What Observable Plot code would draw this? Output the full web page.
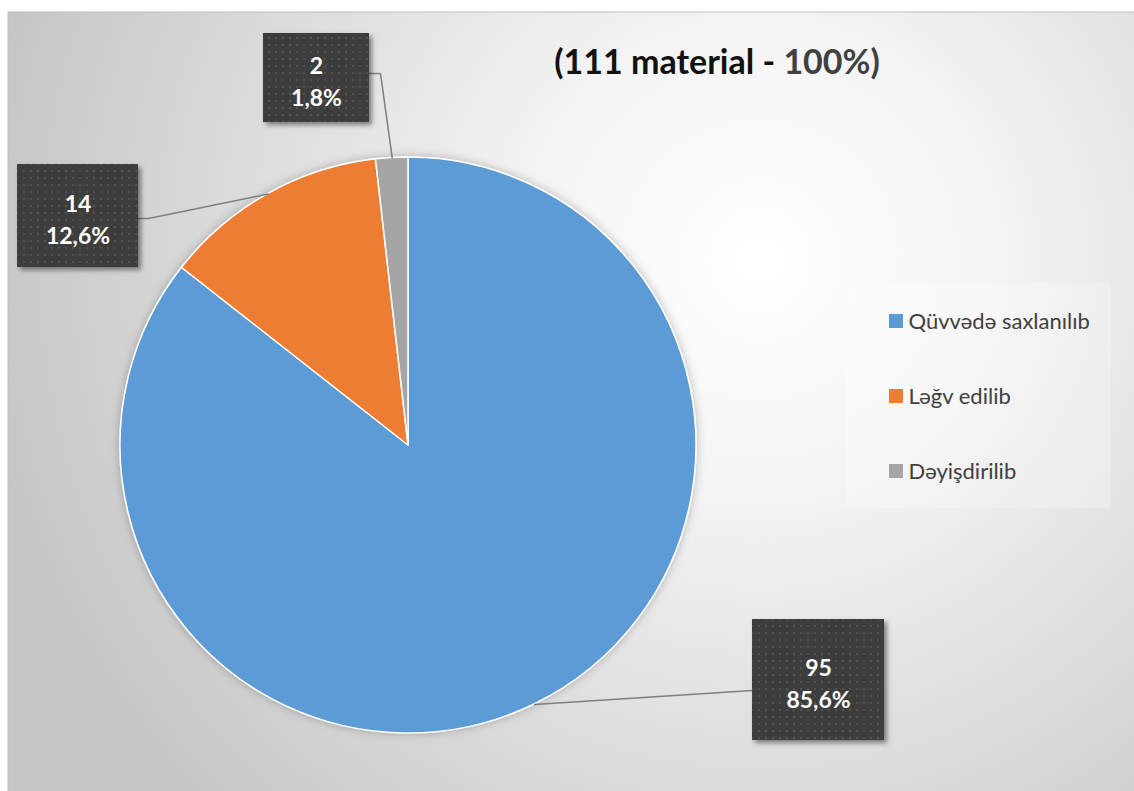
<!DOCTYPE html>
<html><head><meta charset="utf-8">
<script src="https://cdn.jsdelivr.net/npm/d3@7"></script>
<script src="https://cdn.jsdelivr.net/npm/@observablehq/plot@0.6"></script>
<style>body{margin:0;background:#fff;overflow:hidden}</style>
</head><body><div id="chart"></div>
<script>
// ---- data ----
const categories = ["Qüvvədə saxlanılıb", "Ləğv edilib", "Dəyişdirilib"];
const counts = [95, 14, 2];
const percentLabels = ["85,6%", "12,6%", "1,8%"];
const colors = ["#5B9BD5", "#ED7D31", "#A5A5A5"];
const titleMain = "(111 material - ";
const titleTail = "100%)";

// ---- layout ----
const W = 1134, H = 791;
const pie = {cx: 408, cy: 445, r: 288};
const frame = {x1: 8, y1: 12};
const labelBoxes = [
  {x1: 752, x2: 884, y1: 619, y2: 740, sx: 752, sy: 690, ex: 752, ey: 690},
  {x1: 17, x2: 138, y1: 164, y2: 267, sx: 138, sy: 218, ex: 148, ey: 218},
  {x1: 263, x2: 369, y1: 33, y2: 122, sx: 369, sy: 73, ex: 380, ey: 73}
];
const legendBox = {x1: 846, x2: 1111, y1: 283, y2: 508};
const legendRow0 = 321, legendStep = 75, legendSwatchX = 889, legendSwatch = 14, legendTextX = 908;

const arcs = d3.pie().sort(null).value(d => d)(counts);
const rows = categories.map((c, i) => {
  const a = (arcs[i].startAngle + arcs[i].endAngle) / 2;
  const b = labelBoxes[i];
  return {
    category: c, count: counts[i], pct: percentLabels[i], color: colors[i],
    ...b,
    px: pie.cx + pie.r * Math.sin(a), py: pie.cy - pie.r * Math.cos(a),
    ly: legendRow0 + i * legendStep
  };
});
const leader = rows.flatMap((d, i) => [
  {i, x: d.sx, y: d.sy}, {i, x: d.ex, y: d.ey}, {i, x: d.px, y: d.py}
]);

function defsMark() {
  const defs = d3.create("svg:defs");
  const g = defs.append("radialGradient").attr("id", "bg").attr("gradientUnits", "userSpaceOnUse")
    .attr("cx", 760).attr("cy", 260).attr("r", 780);
  g.append("stop").attr("offset", 0).attr("stop-color", "#ffffff");
  g.append("stop").attr("offset", 0.3).attr("stop-color", "#f4f4f4");
  g.append("stop").attr("offset", 1).attr("stop-color", "#c6c6c6");
  const p = defs.append("pattern").attr("id", "dots").attr("patternUnits", "userSpaceOnUse")
    .attr("width", 7).attr("height", 7);
  p.append("rect").attr("width", 7).attr("height", 7).attr("fill", "#3d3d3d");
  p.append("rect").attr("x", 2).attr("y", 2).attr("width", 2).attr("height", 2).attr("fill", "#535353");
  const f = defs.append("filter").attr("id", "boxShadow").attr("x", "-20%").attr("y", "-20%").attr("width", "150%").attr("height", "150%");
  f.append("feDropShadow").attr("dx", 3).attr("dy", 3).attr("stdDeviation", 2.5).attr("flood-color", "#000").attr("flood-opacity", 0.45);
  const f2 = defs.append("filter").attr("id", "pieShadow").attr("x", "-10%").attr("y", "-10%").attr("width", "120%").attr("height", "120%");
  f2.append("feDropShadow").attr("dx", 0).attr("dy", 0).attr("stdDeviation", 5).attr("flood-color", "#000").attr("flood-opacity", 0.25);
  return defs.node();
}

function pieMark(index, scales) {
  const sx = scales && scales.x ? scales.x : (v => v);
  const sy = scales && scales.y ? scales.y : (v => v);
  const cx = sx(pie.cx), cy = sy(pie.cy), r = sx(pie.cx + pie.r) - cx;
  const g = d3.create("svg:g").attr("transform", `translate(${cx},${cy})`).attr("filter", "url(#pieShadow)");
  const arc = d3.arc().innerRadius(0).outerRadius(r);
  g.selectAll("path").data(arcs).join("path")
    .attr("d", arc).attr("fill", (d, i) => colors[i])
    .attr("stroke", "#ffffff").attr("stroke-width", 1.5).attr("stroke-linejoin", "round");
  return g.node();
}

function titleMark(index, scales) {
  const sx = scales && scales.x ? scales.x : (v => v);
  const sy = scales && scales.y ? scales.y : (v => v);
  const t = d3.create("svg:text").attr("x", sx(717)).attr("y", sy(74))
    .attr("text-anchor", "middle").attr("font-family", "Lato, sans-serif")
    .attr("font-weight", "bold").attr("font-size", 34).attr("xml:space", "preserve");
  t.append("tspan").attr("fill", "#111111").text(titleMain);
  t.append("tspan").attr("fill", "#404040").text(titleTail);
  return t.node();
}

const chart = Plot.plot({
  width: W, height: H, margin: 0,
  x: {domain: [0, W], range: [0, W], axis: null},
  y: {domain: [0, H], range: [0, H], axis: null},
  style: {background: "#ffffff", fontFamily: "Lato, sans-serif"},
  marks: [
    defsMark,
    Plot.rect([frame], {x1: "x1", y1: "y1", x2: () => W + 5, y2: () => H + 5, fill: "url(#bg)", stroke: "#c0c0c0", strokeWidth: 1}),
    Plot.rect([legendBox], {x1: "x1", x2: "x2", y1: "y1", y2: "y2", fill: "#ffffff", fillOpacity: 0.25}),
    pieMark,
    titleMark,
    Plot.line(leader, {x: "x", y: "y", z: "i", stroke: "#7f7f7f", strokeWidth: 1.5, curve: "linear"}),
    Plot.rect(rows, {x1: "x1", x2: "x2", y1: "y1", y2: "y2", fill: "url(#dots)"}),
    Plot.text(rows, {x: d => (d.x1 + d.x2) / 2, y: d => (d.y1 + d.y2) / 2 + 2, text: d => `${d.count}\n${d.pct}`,
      fill: "#ffffff", fontSize: 23, fontWeight: "bold", lineHeight: 1.4, lineAnchor: "middle", textAnchor: "middle"}),
    Plot.rect(rows, {x1: () => legendSwatchX, x2: () => legendSwatchX + legendSwatch,
      y1: d => d.ly - legendSwatch / 2, y2: d => d.ly + legendSwatch / 2, fill: "color"}),
    Plot.text(rows, {x: () => legendTextX, y: "ly", text: "category", textAnchor: "start",
      fill: "#404040", fontSize: 22, lineAnchor: "middle"})
  ]
});
d3.select(chart).selectAll('g[aria-label="rect"]').each(function () {
  if (this.getAttribute("fill") === "url(#dots)") this.setAttribute("filter", "url(#boxShadow)");
});
document.getElementById("chart").appendChild(chart);
</script>
</body></html>
